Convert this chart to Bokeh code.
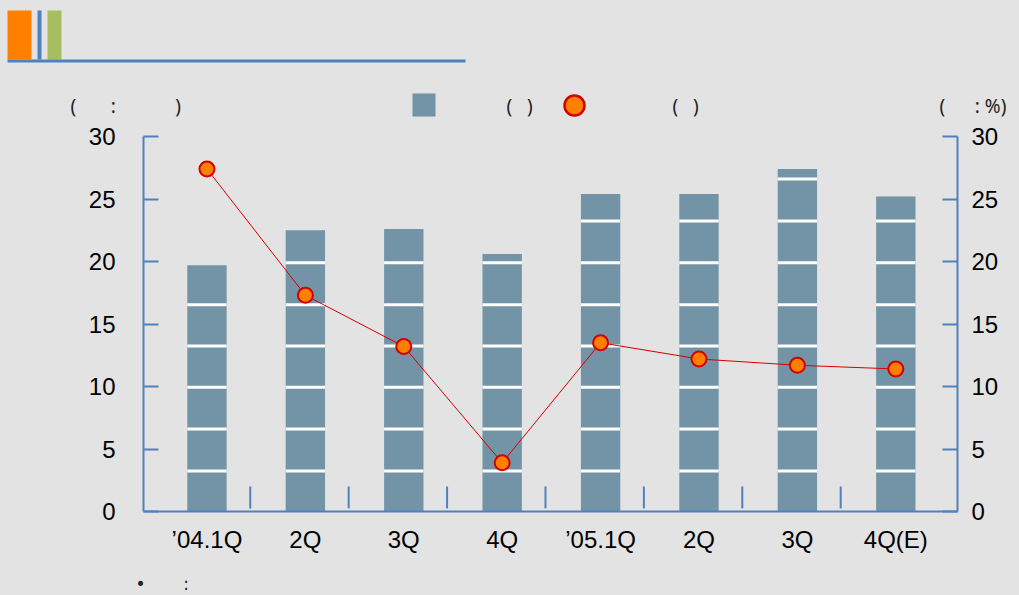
from bokeh.plotting import figure
from bokeh.layouts import column, row
from bokeh.models import Range1d, LinearAxis, FixedTicker
from bokeh.core.properties import value
from bokeh.embed import file_html
from bokeh.resources import INLINE

# ---------------- data ----------------
categories = ["’04.1Q", "2Q", "3Q", "4Q", "’05.1Q", "2Q", "3Q", "4Q(E)"]
bar_values = [19.7, 22.5, 22.6, 20.6, 25.4, 25.4, 27.4, 25.2]
line_values = [27.4, 17.3, 13.2, 3.9, 13.5, 12.2, 11.7, 11.4]
y_ticks = [0, 5, 10, 15, 20, 25, 30]
band_levels = [3.25, 6.6, 9.95, 13.25, 16.55, 19.9, 23.25, 26.6]

NB = "\u00a0"
left_unit_text = "(" + NB * 7 + ":" + NB * 12 + ")"
right_unit_text = "(" + NB * 6 + ": %)"
bar_legend_text = "(" + NB * 3 + ")"
line_legend_text = "(" + NB * 3 + ")"
note_text = "•" + NB * 7 + ":"

# ---------------- style ----------------
BG = "#E3E3E3"
AXIS = "#4F81BD"
BAR = "#7394A6"
RED = "#D40000"
ORANGE = "#FF8000"
GREEN = "#A6BE5F"
TICK_FONT = "Liberation Sans"
TXT_FONT = "Noto Sans"
W = 1019
HEAD_H = 122
FOOT_H = 28
MAIN_H = 595 - HEAD_H - FOOT_H


def blank(h):
    f = figure(width=W, height=h, frame_width=W, frame_height=h, min_border=0,
               x_range=Range1d(0, W), y_range=Range1d(h, 0),
               x_axis_location=None, y_axis_location=None,
               output_backend="svg", toolbar_location=None,
               background_fill_color=BG, border_fill_color=BG,
               outline_line_color=None)
    f.grid.visible = False
    return f


def txt(f, tx, ty, s, size="19px", font=TXT_FONT):
    f.text(x=[tx], y=[ty], text=[s], text_font=value(font),
           text_font_size=size, text_color="#222222",
           text_align="left", text_baseline="middle")


# ---------------- header (decoration + legend row) ----------------
head = blank(HEAD_H)
head.quad(left=[7, 37, 47], right=[31, 41, 61], top=[10, 10, 10],
          bottom=[59, 59, 59], fill_color=[ORANGE, AXIS, GREEN], line_color=None)
head.quad(left=[7], right=[465], top=[59], bottom=[62], fill_color=AXIS, line_color=None)
txt(head, 70, 105, left_unit_text)
head.quad(left=[412], right=[435], top=[93], bottom=[116], fill_color=BAR, line_color=None)
txt(head, 506, 105, bar_legend_text)
head.scatter(x=[574], y=[105], size=20, fill_color=ORANGE, line_color=RED, line_width=2.5)
txt(head, 672, 105, line_legend_text)
txt(head, 939, 105, right_unit_text)

# ---------------- main chart ----------------
x = list(range(len(categories)))

p = figure(frame_width=814, frame_height=375, width=W, height=MAIN_H,
           min_border_left=143, min_border_right=62,
           min_border_top=136 - HEAD_H, min_border_bottom=MAIN_H - 375 - (136 - HEAD_H),
           x_range=Range1d(-0.645, 7.627), y_range=Range1d(0, 30),
           output_backend="svg", toolbar_location=None,
           background_fill_color=BG, border_fill_color=BG,
           outline_line_color=None)
p.grid.visible = False
p.extra_y_ranges = {"pct": Range1d(0, 30)}


def style_axis(ax):
    ax.axis_line_color = AXIS
    ax.axis_line_width = 2
    ax.major_tick_line_color = AXIS
    ax.major_tick_line_width = 2
    ax.minor_tick_line_color = None
    ax.major_label_text_font = TICK_FONT
    ax.major_label_text_font_size = "24px"
    ax.major_label_text_color = "#000000"


yl = p.yaxis[0]
style_axis(yl)
yl.ticker = FixedTicker(ticks=y_ticks)
yl.major_tick_in = 15
yl.major_tick_out = 0
yl.major_label_standoff = 28

yr = LinearAxis(y_range_name="pct")
style_axis(yr)
yr.ticker = FixedTicker(ticks=y_ticks)
yr.major_tick_in = 15
yr.major_tick_out = 0
yr.major_label_standoff = 14
p.add_layout(yr, "right")

xa = p.xaxis[0]
style_axis(xa)
xa.ticker = FixedTicker(ticks=x)
xa.major_label_overrides = {i: c for i, c in zip(x, categories)}
xa.major_tick_line_color = None
xa.major_tick_in = 0
xa.major_tick_out = 0
xa.major_label_standoff = 14

p.vbar(x=x, top=bar_values, width=0.4, fill_color=BAR, line_color=None)

sx0, sx1, sy = [], [], []
for xi, v in zip(x, bar_values):
    for lv in band_levels:
        if lv < v - 0.3:
            sx0.append(xi - 0.2)
            sx1.append(xi + 0.2)
            sy.append(lv)
p.segment(x0=sx0, y0=sy, x1=sx1, y1=sy, line_color="white", line_width=3)

sep_x = [i + 0.44 for i in x[:-1]]
p.segment(x0=sep_x, y0=[0.25] * len(sep_x), x1=sep_x, y1=[2.0] * len(sep_x),
          line_color=AXIS, line_width=2)

p.line(x, line_values, y_range_name="pct", line_color=RED, line_width=1)
p.scatter(x, line_values, y_range_name="pct", size=15, fill_color=ORANGE,
          line_color=RED, line_width=2)

# ---------------- footer note ----------------
foot = blank(FOOT_H)
txt(foot, 135, 583 - (595 - FOOT_H), note_text, size="17px", font="DejaVu Sans")

layout = column(row(head), p, row(foot), spacing=0)

html = file_html(layout, INLINE)
html = html.replace("<body>", '<body style="background-color:#E3E3E3;">')
open("out.html", "w").write(html)
